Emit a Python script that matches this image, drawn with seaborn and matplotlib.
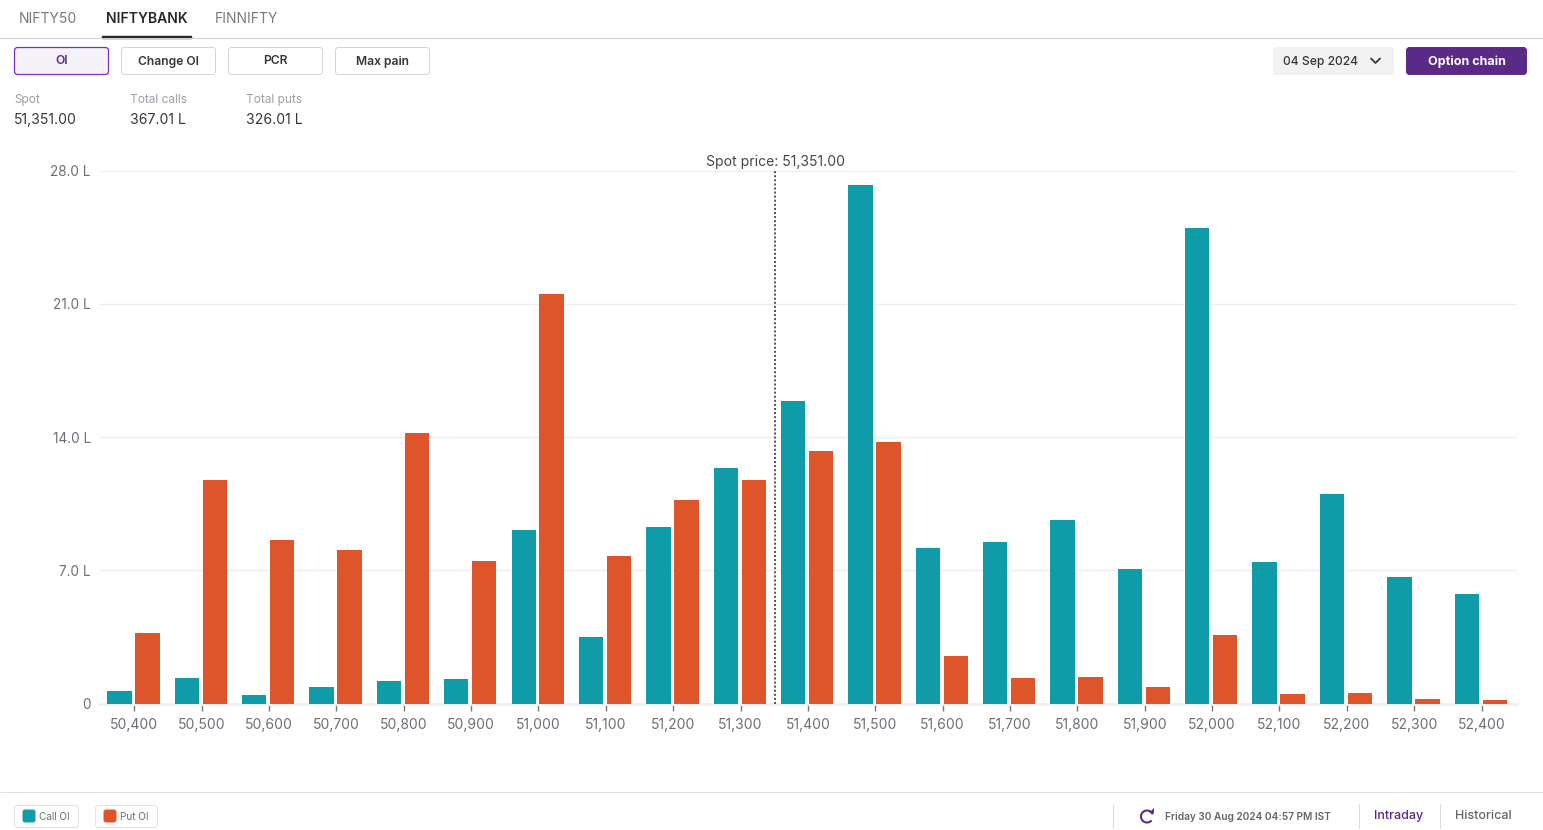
#!/usr/bin/env python3
import matplotlib
matplotlib.use("Agg")
import matplotlib.pyplot as plt
from matplotlib.patches import Arc, FancyBboxPatch, Polygon, Rectangle
import numpy as np
import pandas as pd
import seaborn as sns

# values in lakh
strikes = [50400, 50500, 50600, 50700, 50800, 50900, 51000, 51100, 51200, 51300, 51400,
           51500, 51600, 51700, 51800, 51900, 52000, 52100, 52200, 52300, 52400]
call_oi = [0.68, 1.36, 0.45, 0.87, 1.2, 1.3, 9.1, 3.5, 9.29, 12.37, 15.88,
           27.24, 8.18, 8.49, 9.65, 7.09, 24.99, 7.45, 11.0, 6.66, 5.77]
put_oi = [3.72, 11.77, 8.6, 8.1, 14.21, 7.5, 21.5, 7.77, 10.69, 11.75, 13.27,
          13.77, 2.52, 1.34, 1.42, 0.9, 3.62, 0.5, 0.55, 0.24, 0.18]
spot = 51351.00
y_ticks = [0, 7, 14, 21, 28]
y_labels = ["0", "7.0 L", "14.0 L", "21.0 L", "28.0 L"]
tabs = ["NIFTY50", "NIFTYBANK", "FINNIFTY"]
buttons = ["OI", "Change OI", "PCR", "Max pain"]
stats = [("Spot", "51,351.00"), ("Total calls", "367.01 L"), ("Total puts", "326.01 L")]

TEAL = "#0f9ca8"
ORANGE = "#de552b"
PURPLE = "#5b2a86"
W, H = 1543, 830

sns.set_theme(style="white")
plt.rcParams["font.family"] = ["Inter", "DejaVu Sans"]

fig = plt.figure(figsize=(W / 100, H / 100), dpi=100)

# main chart, placed in pixels
left, right, top, bottom = 99.3, 1517, 170.7, 703.7
ax = fig.add_axes([left / W, 1 - bottom / H, (right - left) / W, (bottom - top) / H])

df = pd.DataFrame({"strike": strikes, "Call OI": call_oi, "Put OI": put_oi})
long_df = df.melt(id_vars="strike", var_name="side", value_name="oi")
sns.barplot(data=long_df, x="strike", y="oi", hue="side", palette=[TEAL, ORANGE],
            width=0.831, gap=0.13, saturation=1, linewidth=0, legend=False, ax=ax, zorder=3)

ax.set_xlim(-0.508, 20.539)
ax.set_ylim(0, 28)
ax.set_xlabel("")
ax.set_ylabel("")
ax.set_yticks(y_ticks)
ax.set_yticklabels(y_labels, color="#6b6f76", fontsize=9.8)
# the ticks sit a hair right of the gap between the two bars
ax.set_xticks(np.arange(len(strikes)) + 0.012)
ax.set_xticklabels([f"{s:,}" for s in strikes], color="#6b6f76", fontsize=10)
ax.tick_params(axis="y", length=0, pad=6)
ax.tick_params(axis="x", length=5, width=1, color="#777777", pad=5, bottom=True)
for lab in ax.get_xticklabels():
    lab.set_x(lab.get_position()[0] + 0.012)
ax.grid(axis="y", color="#eeeeee", linewidth=1, zorder=0)
ax.set_axisbelow(True)
sns.despine(ax=ax, left=True, top=True, right=True)
ax.spines["bottom"].set_color("#f0f0f0")
ax.spines["bottom"].set_linewidth(2)

spot_x = (spot - strikes[0]) / (strikes[1] - strikes[0]) + 0.012
ax.axvline(spot_x, color="#555555", linewidth=1.4, linestyle=(0, (1.05, 1.05)), zorder=4)
ax.text(spot_x + 0.01, 28.08, f"Spot price: {spot:,.2f}", ha="center", va="bottom",
        fontsize=10.05, color="#44474c", clip_on=False)

# page furniture, pixel coordinates
ui = fig.add_axes([0, 0, 1, 1], zorder=-1)
ui.set_xlim(0, W)
ui.set_ylim(H, 0)
ui.axis("off")


def box(x, y, w, h, face="white", edge="#d4d4d4", lw=0.7, r=3):
    ui.add_patch(FancyBboxPatch((x + r, y + r), w - 2 * r, h - 2 * r,
                                boxstyle=f"round,pad={r},rounding_size={r}",
                                facecolor=face, edgecolor=edge, linewidth=lw))


# tabs
for x, label, color, weight in zip([19, 106, 215], tabs,
                                   ["#77797e", "#25272b", "#77797e"], ["normal", "semibold", "normal"]):
    ui.text(x, 19, label, fontsize=10.05, color=color, fontweight=weight, va="center")
ui.add_patch(Rectangle((102, 36.5), 89, 1.6, color="#222222"))
ui.plot([0, W], [38.5, 38.5], color="#d2d2d2", linewidth=0.8)

# buttons
for i, (x, label) in enumerate(zip([14.5, 121.5, 228.5, 335.5], buttons)):
    active = i == 0
    box(x, 47.5, 94, 27, face="#f5f2f9" if active else "white",
        edge="#7a32c4" if active else "#d4d4d4", lw=0.9 if active else 0.7)
    ui.text(x + 47, 61.5, label, ha="center", va="center", fontsize=8.7, fontweight="semibold",
            color=PURPLE if active else "#33363a")

# expiry dropdown and option chain
box(1273.5, 47.5, 120, 27, face="#f1f1f1", edge="#f1f1f1")
ui.text(1283, 61.5, "04 Sep 2024", va="center", fontsize=8.7, fontweight="medium", color="#33363a")
ui.plot([1371, 1375.5, 1380], [58.5, 63, 58.5], color="#33363a", linewidth=1.3)
box(1406.5, 47.5, 120, 27, face=PURPLE, edge=PURPLE)
ui.text(1466.5, 62, "Option chain", ha="center", va="center", fontsize=9.1,
        fontweight="bold", color="white")

# spot and totals
for x, (name, value) in zip([14, 130, 246.5], stats):
    ui.text(x, 100, name, va="center", fontsize=8.55, color="#9b9fa6")
    ui.text(x, 120, value, va="center", fontsize=10.1, color="#33363a")

# footer
ui.plot([0, W], [791.5, 791.5], color="#e0e0e0", linewidth=0.8)
for x, w, label, color in [(14.5, 64, "Call OI", TEAL), (95.5, 62, "Put OI", ORANGE)]:
    box(x, 805.5, w, 22, edge="#e2e2e2", lw=0.7)
    box(x + 8.5, 810, 12, 12, face=color, edge=color, r=2)
    ui.text(x + 24.5, 817, label, va="center", fontsize=7.2, color="#6b6f76")

for x in [1112.5, 1358.5, 1439.5]:
    ui.plot([x, x], [804, 828], color="#dddddd", linewidth=0.8)

# refresh icon
ui.add_patch(Arc((1147, 816.5), 12, 12, theta1=40, theta2=340, color=PURPLE, linewidth=1.5))
ui.add_patch(Polygon([[1148.5, 813], [1154, 813], [1154, 808]], closed=True, color=PURPLE, linewidth=0))

ui.text(1165, 817, "Friday 30 Aug 2024 04:57 PM IST", va="center", fontsize=7.3,
        fontweight="semibold", color="#63666b")
ui.text(1398.5, 816, "Intraday", ha="center", va="center", fontsize=9, fontweight="medium", color=PURPLE)
ui.text(1483.5, 816, "Historical", ha="center", va="center", fontsize=9, fontweight="medium", color="#63666b")

fig.savefig("out.png", dpi=100, facecolor="white")
plt.close(fig)
